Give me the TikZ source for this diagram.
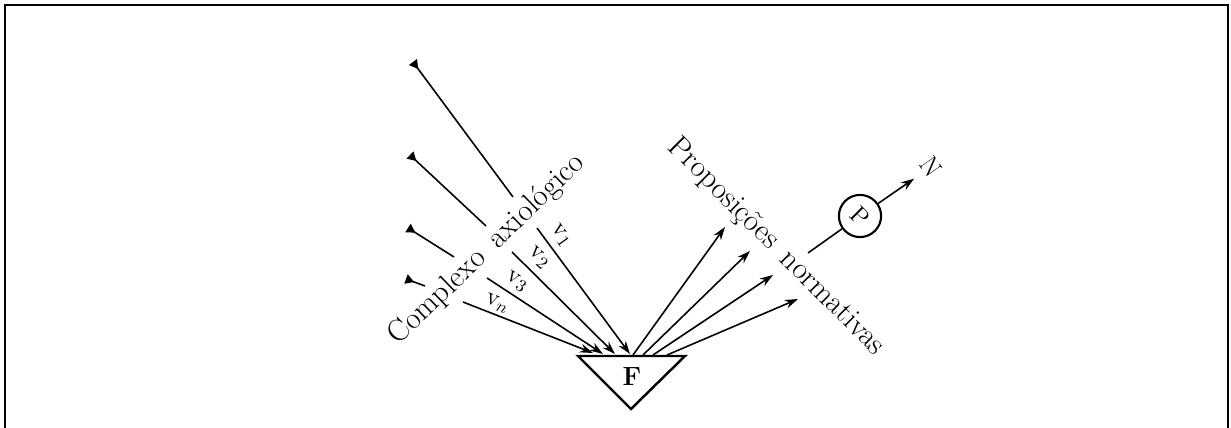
\documentclass[tikz,border=0pt]{standalone}
\usetikzlibrary{arrows.meta}
\begin{document}
\begin{tikzpicture}[x=0.02cm,y=-0.02cm,
  ln/.style={line width=0.9pt},
  inarrow/.style={ln,-{Stealth[length=7.5pt,width=5pt]}},
  tailline/.style={ln,{Triangle[reversed,length=5pt,width=5.5pt]}-},
  big/.style={font=\fontsize{17.5}{20}\selectfont, inner sep=0pt},
  vlab/.style={font=\fontsize{14}{16}\selectfont, inner sep=0pt},
  frameline/.style={line width=1.1pt}]
\useasboundingbox (0,0) rectangle (1231,428);
% frame
\coordinate (fbl) at (5,428);
\coordinate (ftl) at (5,5);
\coordinate (ftr) at (1228,5);
\coordinate (fbr) at (1228,428);
\draw[frameline] (fbl) -- (ftl) -- (ftr) -- (fbr);
% triangle F
\coordinate (tl) at (578,356);
\coordinate (tr) at (685,356);
\coordinate (ta) at (631,409);
\draw[line width=1.4pt, line join=miter] (tl) -- (tr) -- (ta) -- cycle;
\node[font=\fontsize{15}{17}\selectfont\bfseries] (F) at (632,377) {F};
% left input lines
\coordinate (s1) at (413,62);  \coordinate (e1) at (513,197);
\coordinate (b1) at (537,228); \coordinate (h1) at (630,354);
\coordinate (s2) at (410,155); \coordinate (e2) at (486,226);
\coordinate (b2) at (512,252); \coordinate (h2) at (615,354);
\coordinate (s3) at (408,228); \coordinate (e3) at (454,257);
\coordinate (b3) at (487,278); \coordinate (h3) at (603,354);
\coordinate (s4) at (406,279); \coordinate (e4) at (425,286);
\coordinate (b4) at (463,302); \coordinate (h4) at (593,353);
\draw[tailline] (s1) -- (e1);
\draw[tailline] (s2) -- (e2);
\draw[tailline] (s3) -- (e3);
\draw[tailline] (s4) -- (e4);
\draw[inarrow] (b1) -- (h1);
\draw[inarrow] (b2) -- (h2);
\draw[inarrow] (b3) -- (h3);
\draw[inarrow] (b4) -- (h4);
\node[vlab, rotate=-54] (v1) at (561,236) {v$_1$};
\node[vlab, rotate=-43] (v2) at (539,258) {v$_2$};
\node[vlab, rotate=-33] (v3) at (517,282) {v$_3$};
\node[vlab, rotate=-21] (vn) at (497,304) {v$_n$};
\node[big, rotate=44] (cax) at (487,250) {Complexo\hspace{9pt}axiológico};
% right output arrows
\coordinate (r1) at (633,355); \coordinate (q1) at (725,227);
\coordinate (r2) at (643,355); \coordinate (q2) at (750,251);
\coordinate (r3) at (653,355); \coordinate (q3) at (773,275);
\coordinate (r4) at (667,355); \coordinate (q4) at (798,299);
\draw[inarrow] (r1) -- (q1);
\draw[inarrow] (r2) -- (q2);
\draw[inarrow] (r3) -- (q3);
\draw[inarrow] (r4) -- (q4);
\node[big, rotate=-45] (pn) at (776,247) {Proposições\hspace{8pt}normativas};
% P and N
\coordinate (pl) at (808,253);
\node[draw, circle, line width=1.2pt, minimum size=24pt, inner sep=0pt] (P) at (860,216) {};
\node[font=\fontsize{14}{16}\selectfont, rotate=-45] (Pt) at (P) {P};
\draw[ln] (pl) -- (P);
\node[font=\fontsize{15}{17}\selectfont, rotate=-55] (N) at (931,167) {N};
\draw[inarrow, shorten >=3pt] (P) -- (N);
\end{tikzpicture}
\end{document}
